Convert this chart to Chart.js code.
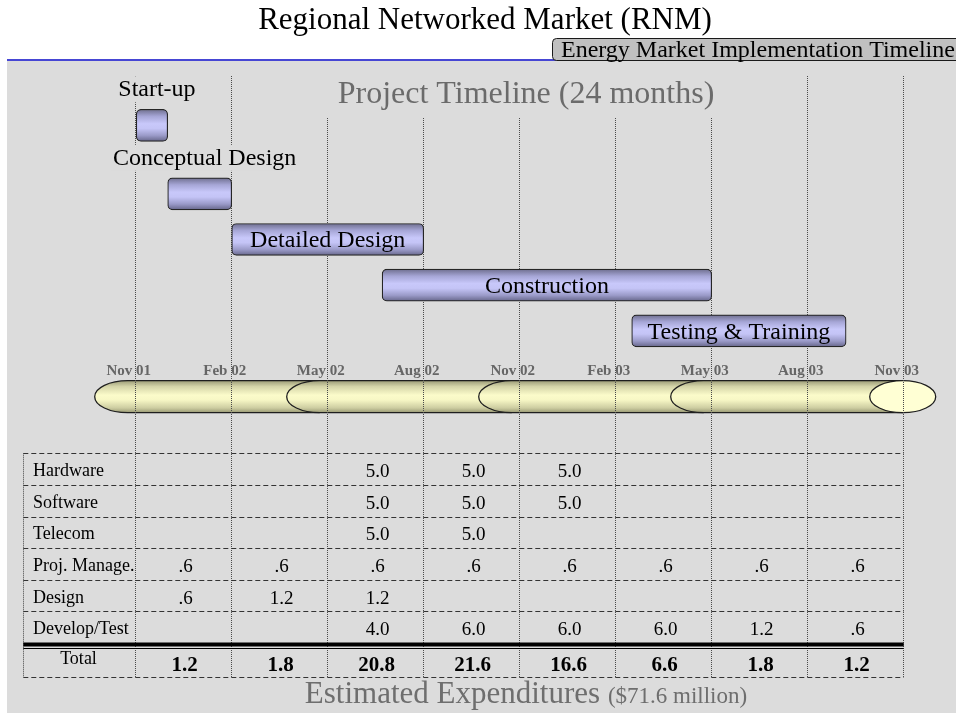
<!DOCTYPE html>
<html>
<head>
<meta charset="utf-8">
<style>
html,body{margin:0;padding:0;background:#fff;overflow:hidden}
canvas{display:block}
</style>
<script src="https://cdn.jsdelivr.net/npm/chart.js@4.4.1/dist/chart.umd.min.js"></script>
</head>
<body>
<canvas id="c" width="956" height="713"></canvas>
<script>
// ================= DATA =================
const titleText = 'Regional Networked Market (RNM)';
const subtitleText = 'Energy Market Implementation Timeline';
const timelineTitle = 'Project Timeline (24 months)';
const tableTitle = 'Estimated Expenditures';
const tableSubtitle = '($71.6 million)';

const tasks     = ['Start-up', 'Conceptual Design', 'Detailed Design', 'Construction', 'Testing & Training'];
const taskStart = [0, 1, 3, 7.7, 15.5];   // months after Nov 2001
const taskEnd   = [1, 3, 9, 18, 22.2];

const tickMonths = [0, 3, 6, 9, 12, 15, 18, 21, 24];
const tickLabels = ['Nov 01', 'Feb 02', 'May 02', 'Aug 02', 'Nov 02', 'Feb 03', 'May 03', 'Aug 03', 'Nov 03'];

const costRows    = ['Hardware', 'Software', 'Telecom', 'Proj. Manage.', 'Design', 'Develop/Test'];
const hardware    = [null, null, 5.0, 5.0, 5.0, null, null, null];
const software    = [null, null, 5.0, 5.0, 5.0, null, null, null];
const telecom     = [null, null, 5.0, 5.0, null, null, null, null];
const projManage  = [0.6, 0.6, 0.6, 0.6, 0.6, 0.6, 0.6, 0.6];
const design      = [0.6, 1.2, 1.2, null, null, null, null, null];
const developTest = [null, null, 4.0, 6.0, 6.0, 6.0, 1.2, 0.6];
const totalLabel  = 'Total';
const totals      = [1.2, 1.8, 20.8, 21.6, 16.6, 6.6, 1.8, 1.2];

// ================= STYLE / LAYOUT =================
const SERIF = "'Liberation Serif','Times New Roman',Times,serif";
const LABEL_ABOVE = ['Start-up', 'Conceptual Design'];   // labels drawn above short bars
const L = {
  padTop: 76, padBottom: 36,
  xMin: -4.2406, xMax: 25.634,
  yMin: -0.5794, yMax: 12.58,
  axisLane: 5.694, ribbonLane: 6.443, ribbonH: 32, capRx: 33,
  barH: 32
};
const T = { left: 23.3, top: 453.3, rowH: 31.6, ruleTop: 642.5, thin: 648, bottom: 676.7, labelX: 33 };

// lanes: each task one row, plus half a row when its label sits above it
const lanes = [];
(function(){ let acc = 0; tasks.forEach(t => { if (LABEL_ABOVE.includes(t)) acc += 0.5; lanes.push(acc); acc += 1; }); })();

const fmt = v => v.toFixed(1).replace(/^0\./, '.');

function barGradient(ctx, y, h) {
  const g = ctx.createLinearGradient(0, y - h / 2, 0, y + h / 2);
  g.addColorStop(0, '#6e6e8e');
  g.addColorStop(0.22, '#a6a6d6');
  g.addColorStop(0.45, '#c8c8fa');
  g.addColorStop(0.6, '#c4c4f6');
  g.addColorStop(0.82, '#9a9ac8');
  g.addColorStop(1, '#66668a');
  return g;
}

function drawBackground(chart) {
  const ctx = chart.ctx;
  ctx.save();
  ctx.fillStyle = '#ffffff';
  ctx.fillRect(0, 0, chart.width, chart.height);
  ctx.fillStyle = '#dcdcdc';
  ctx.fillRect(7, 61, chart.width - 7, chart.height - 61);
  ctx.strokeStyle = '#4646d4';
  ctx.lineWidth = 2;
  ctx.beginPath(); ctx.moveTo(7, 60); ctx.lineTo(chart.width, 60); ctx.stroke();
  ctx.fillStyle = '#000';
  ctx.font = '31px ' + SERIF;
  ctx.textAlign = 'center';
  ctx.textBaseline = 'alphabetic';
  ctx.fillText(titleText, 485, 29);
  ctx.fillStyle = '#c0c0c0';
  ctx.strokeStyle = '#1a1a1a';
  ctx.lineWidth = 1;
  ctx.beginPath();
  ctx.roundRect(552.5, 38.5, 430, 22, 4);
  ctx.fill(); ctx.stroke();
  ctx.fillStyle = '#000';
  ctx.font = '24px ' + SERIF;
  ctx.textAlign = 'left';
  ctx.fillText(subtitleText, 561, 56.5);
  ctx.restore();
}

function drawRibbon(chart) {
  const ctx = chart.ctx, xs = chart.scales.x, ys = chart.scales.y;
  const cy = ys.getPixelForValue(L.ribbonLane), h = L.ribbonH, top = cy - h / 2, bot = cy + h / 2, rx = L.capRx;
  const g = ctx.createLinearGradient(0, top, 0, bot);
  g.addColorStop(0, '#9c9c78');
  g.addColorStop(0.18, '#d4d4a8');
  g.addColorStop(0.45, '#fbfbca');
  g.addColorStop(0.6, '#f7f7c5');
  g.addColorStop(0.85, '#cdcda1');
  g.addColorStop(1, '#989874');
  const endM = tickMonths[tickMonths.length - 1];
  const starts = [];
  for (let m = tickMonths[0] - 0.25; m < endM - 1; m += 6) starts.push(m);
  ctx.save();
  ctx.strokeStyle = '#1e1e1e';
  ctx.lineWidth = 1.3;
  starts.forEach((m, k) => {
    const x0 = xs.getPixelForValue(m);
    const x1 = k < starts.length - 1 ? xs.getPixelForValue(starts[k + 1]) : xs.getPixelForValue(endM);
    const path = () => {
      ctx.beginPath();
      ctx.moveTo(x1, top);
      ctx.lineTo(x0, top);
      ctx.ellipse(x0, cy, rx, h / 2, 0, -Math.PI / 2, Math.PI / 2, true);
      ctx.lineTo(x1, bot);
    };
    path(); ctx.closePath(); ctx.fillStyle = g; ctx.fill();
    path(); ctx.stroke();
  });
  const xe = xs.getPixelForValue(endM) - 1;
  ctx.beginPath();
  ctx.ellipse(xe, cy, rx, h / 2, 0, 0, Math.PI * 2);
  ctx.fillStyle = '#ffffd4'; ctx.fill(); ctx.stroke();
  ctx.restore();
}

function labelWithBg(ctx, text, cx, baseline, font, color) {
  ctx.font = font;
  const w = ctx.measureText(text).width;
  ctx.fillStyle = '#dcdcdc';
  ctx.fillRect(cx - w / 2 - 3, baseline - 20, w + 6, 26);
  ctx.fillStyle = color;
  ctx.textAlign = 'center';
  ctx.textBaseline = 'alphabetic';
  ctx.fillText(text, cx, baseline);
}

function drawTaskLabels(chart) {
  const ctx = chart.ctx, meta = chart.getDatasetMeta(0);
  ctx.save();
  meta.data.forEach((el, i) => {
    const p = el.getProps(['x', 'y', 'base'], true);
    const cx = (p.x + p.base) / 2;
    if (LABEL_ABOVE.includes(tasks[i])) {
      labelWithBg(ctx, tasks[i], cx + 5, p.y - L.barH / 2 - 13, '24px ' + SERIF, '#000');
    } else {
      ctx.font = '24px ' + SERIF;
      ctx.fillStyle = '#000';
      ctx.textAlign = 'center';
      ctx.textBaseline = 'alphabetic';
      ctx.fillText(tasks[i], cx, p.y + 8);
    }
  });
  ctx.font = '32px ' + SERIF;
  const w = ctx.measureText(timelineTitle).width;
  const cx = 526;
  ctx.fillStyle = '#dcdcdc';
  ctx.fillRect(cx - w / 2 - 13, chart.chartArea.top, w + 26, 42);
  ctx.fillStyle = '#6b6b6b';
  ctx.textAlign = 'center';
  ctx.fillText(timelineTitle, cx, 103);
  ctx.restore();
}

function hLine(ctx, x0, x1, y) { ctx.beginPath(); ctx.moveTo(x0, y); ctx.lineTo(x1, y); ctx.stroke(); }

function drawTable(chart) {
  const ctx = chart.ctx, xs = chart.scales.x;
  const colX = tickMonths.map(m => xs.getPixelForValue(m));
  const left = T.left, right = colX[colX.length - 1];
  const rowsData = [hardware, software, telecom, projManage, design, developTest];
  ctx.save();
  ctx.strokeStyle = '#333';
  ctx.lineWidth = 1;
  ctx.setLineDash([5, 3]);
  for (let r = 0; r < rowsData.length; r++) {
    hLine(ctx, left, right, Math.round(T.top + r * T.rowH) + 0.5);
  }
  hLine(ctx, left, right, Math.round(T.bottom) + 0.5);
  ctx.setLineDash([1, 1]);
  ctx.strokeStyle = '#444';
  ctx.beginPath(); ctx.moveTo(Math.round(left) + 0.5, T.top); ctx.lineTo(Math.round(left) + 0.5, T.bottom); ctx.stroke();
  ctx.setLineDash([]);
  ctx.fillStyle = '#000';
  ctx.fillRect(left, T.ruleTop, right - left, 4);
  ctx.fillRect(left, T.thin, right - left, 1);

  ctx.textBaseline = 'alphabetic';
  rowsData.forEach((vals, r) => {
    const cy = T.top + (r + 0.5) * T.rowH;
    ctx.font = '18px ' + SERIF;
    ctx.textAlign = 'left';
    ctx.fillStyle = '#000';
    ctx.fillText(costRows[r], T.labelX, cy + 7);
    ctx.font = '19px ' + SERIF;
    ctx.textAlign = 'center';
    vals.forEach((v, c) => {
      if (v === null) return;
      ctx.fillText(fmt(v), (colX[c] + colX[c + 1]) / 2 + 2, cy + 8);
    });
  });
  const tcy = (T.thin + 1 + T.bottom) / 2;
  ctx.font = '18px ' + SERIF;
  ctx.textAlign = 'center';
  ctx.fillText(totalLabel, (left + colX[0]) / 2 - 1, tcy + 1);
  ctx.font = 'bold 21px ' + SERIF;
  totals.forEach((v, c) => ctx.fillText(fmt(v), (colX[c] + colX[c + 1]) / 2 + 1, tcy + 8));

  ctx.font = '31px ' + SERIF;
  const w1 = ctx.measureText(tableTitle + ' ').width;
  ctx.font = '23px ' + SERIF;
  const w2 = ctx.measureText(tableSubtitle).width;
  const x0 = 526 - (w1 + w2) / 2;
  ctx.textAlign = 'left';
  ctx.fillStyle = '#6e6e6e';
  ctx.font = '31px ' + SERIF;
  ctx.fillText(tableTitle, x0, 703);
  ctx.font = '23px ' + SERIF;
  ctx.fillText(tableSubtitle, x0 + w1, 703);
  ctx.restore();
}

const decor = {
  id: 'decor',
  beforeDraw(chart) { drawBackground(chart); drawRibbon(chart); },
  afterDatasetsDraw(chart) { drawTaskLabels(chart); drawTable(chart); }
};

new Chart(document.getElementById('c'), {
  type: 'bar',
  data: {
    datasets: [{
      label: 'Tasks',
      data: tasks.map((t, i) => ({ y: lanes[i], x: [taskStart[i], taskEnd[i]] })),
      backgroundColor: (c) => {
        const ch = c.chart;
        if (!ch.chartArea || c.dataIndex === undefined || !ch.scales.y) return '#c4c4f4';
        return barGradient(ch.ctx, ch.scales.y.getPixelForValue(lanes[c.dataIndex]), L.barH);
      },
      borderColor: '#262626',
      borderWidth: 1.2,
      borderRadius: 5,
      borderSkipped: false,
      barThickness: L.barH
    }]
  },
  options: {
    indexAxis: 'y',
    responsive: false,
    maintainAspectRatio: false,
    animation: false,
    events: [],
    layout: { padding: { top: L.padTop, bottom: L.padBottom, left: 0, right: 0 } },
    plugins: { legend: { display: false }, tooltip: { enabled: false }, title: { display: false } },
    scales: {
      x: {
        type: 'linear',
        min: L.xMin, max: L.xMax,
        offset: false,
        position: { y: L.axisLane },
        afterBuildTicks: (s) => { s.ticks = tickMonths.map(v => ({ value: v })); },
        grid: { color: '#4a4a4a', lineWidth: 1, drawTicks: false },
        border: { display: false, dash: [1, 1] },
        ticks: {
          autoSkip: false, maxRotation: 0, minRotation: 0, padding: 0,
          labelOffset: -7,
          color: '#666666',
          font: { family: SERIF, size: 15, weight: 'bold' },
          callback: (v, i) => tickLabels[i]
        }
      },
      y: {
        type: 'linear',
        min: L.yMin, max: L.yMax,
        offset: false,
        reverse: true,
        display: false
      }
    }
  },
  plugins: [decor]
});
</script>
</body>
</html>
